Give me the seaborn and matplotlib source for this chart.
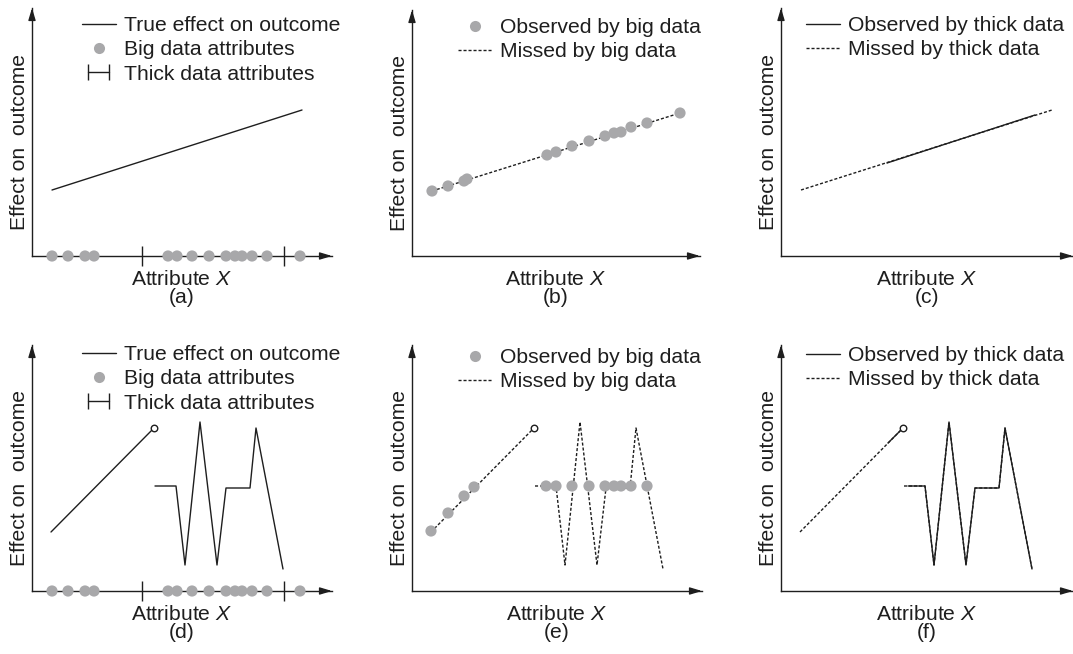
import matplotlib
matplotlib.use('Agg')
import matplotlib.pyplot as plt
import seaborn as sns
from matplotlib.lines import Line2D
from matplotlib.legend_handler import HandlerLine2D

sns.set_theme(style='white')
plt.rcParams['font.family'] = ['Liberation Sans', 'DejaVu Sans']
plt.rcParams['mathtext.fontset'] = 'custom'
plt.rcParams['mathtext.rm'] = 'Liberation Sans'
plt.rcParams['mathtext.it'] = 'Liberation Sans:italic'

INK = '#1e1e1e'
DOT = '#a8a8aa'
DASH = (0, (2.2, 1.4))
FS = 15.2

# data (units: pixels measured from each panel's origin)
big_x = [20, 36, 53, 62, 136, 145, 160, 177, 194, 203, 210, 220, 235, 268]
thick_ticks = [110, 252]
true_x = [20, 270]
true_y = [66, 146]

obs_x_b = [20, 36, 52, 55, 135, 144, 160, 177, 193, 202, 209, 219, 235, 268]
obs_y_b = [65, 70, 75, 77, 101, 104, 110, 115, 120, 123, 124, 129, 133, 143]

miss_x_c = [20, 271]
miss_y_c = [66, 146]
seen_x_c = [106, 254]
seen_y_c = [93, 141]

seg_x = [19, 122]
seg_y = [59, 163]
zig_x = [123, 144, 153, 168, 185, 194, 218, 224, 251]
zig_y = [105, 105, 26, 169, 26, 103, 103, 163, 22]

obs1_x_e = [19, 36, 52, 62]
obs1_y_e = [60, 78, 95, 104]
obs2_x_e = [134, 144, 160, 177, 193, 202, 209, 219, 235]
obs2_y_e = [105] * 9

seen_seg_x_f = [107, 122]
seen_seg_y_f = [148, 163]
seen_zig_x_f = [127, 144, 153, 168, 185, 194, 218, 224, 251]
seen_zig_y_f = [105, 105, 26, 169, 26, 103, 103, 163, 22]

# panel boxes: left, top, right, origin-y (pixels in figure)
boxes = {
    'a': (32, 8, 332, 256), 'b': (412, 10, 700, 256), 'c': (781, 8, 1073, 256),
    'd': (32, 345, 332, 591), 'e': (412, 345, 702, 591), 'f': (781, 345, 1073, 591),
}
legend_at = {'a': (82, 16), 'b': (458, 18), 'c': (806, 16),
             'd': (82, 345), 'e': (458, 348), 'f': (806, 346)}

W, H = 1073, 654
fig = plt.figure(figsize=(W / 100, H / 100), dpi=100)
axes = {}
for key, (l, t, r, o) in boxes.items():
    ax = fig.add_axes([l / W, (H - o) / H, (r - l) / W, (o - t) / H])
    ax.set_xlim(0, r - l)
    ax.set_ylim(0, o - t)
    for s in ['top', 'right']:
        ax.spines[s].set_visible(False)
    for s in ['left', 'bottom']:
        ax.spines[s].set_color(INK)
        ax.spines[s].set_linewidth(1.0)
    ax.set_yticks([])
    ax.set_xticks([])
    ax.annotate('', xy=(1, 0), xytext=(0.97, 0), xycoords='axes fraction',
                arrowprops=dict(arrowstyle='-|>,head_length=0.6,head_width=0.18',
                                color=INK, lw=1, shrinkA=0, shrinkB=0))
    ax.annotate('', xy=(0, 1), xytext=(0, 0.97), xycoords='axes fraction',
                arrowprops=dict(arrowstyle='-|>,head_length=0.6,head_width=0.18',
                                color=INK, lw=1, shrinkA=0, shrinkB=0))
    ax.set_xlabel('Attribute $X$', fontsize=FS, color=INK)
    ax.xaxis.set_label_coords(0.5, -14 / (o - t))
    ax.set_ylabel('Effect on  outcome', fontsize=FS, color=INK)
    ax.yaxis.set_label_coords(-3 / (r - l), 0.46)
    ax.text(0.5, -32 / (o - t), '(%s)' % key, transform=ax.transAxes,
            ha='center', va='top', fontsize=FS, color=INK)
    axes[key] = ax


def line(ax, x, y, dashed=False, lw=1.0):
    sns.lineplot(x=x, y=y, ax=ax, color=INK, lw=lw, sort=False, estimator=None,
                 linestyle=DASH if dashed else '-', legend=False)


def dots(ax, x, y):
    sns.scatterplot(x=x, y=y, ax=ax, color=DOT, s=65, edgecolor='none',
                    clip_on=False, zorder=3, legend=False)


def open_end(ax, x, y):
    sns.scatterplot(x=[x], y=[y], ax=ax, facecolor='white', edgecolor=INK,
                    s=22, linewidth=1, zorder=4, legend=False)


def thick_axis(ax):
    ax.set_xticks(thick_ticks)
    ax.tick_params(axis='x', bottom=True, direction='inout', length=15,
                   width=1, color=INK, labelbottom=False)


# (a)
ax = axes['a']
line(ax, true_x, true_y)
dots(ax, big_x, [0] * len(big_x))
thick_axis(ax)
# (b)
ax = axes['b']
line(ax, obs_x_b[::len(obs_x_b) - 1], obs_y_b[::len(obs_y_b) - 1], dashed=True)
dots(ax, obs_x_b, obs_y_b)
# (c)
ax = axes['c']
line(ax, miss_x_c, miss_y_c, dashed=True)
line(ax, seen_x_c, seen_y_c)
# (d)
ax = axes['d']
line(ax, seg_x, seg_y)
line(ax, zig_x, zig_y)
open_end(ax, seg_x[-1], seg_y[-1])
dots(ax, big_x, [0] * len(big_x))
thick_axis(ax)
# (e)
ax = axes['e']
line(ax, seg_x, seg_y, dashed=True)
line(ax, zig_x, zig_y, dashed=True)
dots(ax, obs1_x_e, obs1_y_e)
dots(ax, obs2_x_e, obs2_y_e)
open_end(ax, seg_x[-1], seg_y[-1])
# (f)
ax = axes['f']
line(ax, seg_x, seg_y, dashed=True)
line(ax, zig_x, zig_y, dashed=True)
line(ax, seen_seg_x_f, seen_seg_y_f)
line(ax, seen_zig_x_f, seen_zig_y_f)
open_end(ax, seg_x[-1], seg_y[-1])

# legends
solid_h = Line2D([], [], color=INK, lw=1)
dash_h = Line2D([], [], color=INK, lw=1, linestyle=DASH)
dot_h = Line2D([], [], color=DOT, marker='o', markersize=8, linestyle='',
               markeredgewidth=0)
tick_h = Line2D([0, 1], [0, 0], color=INK, lw=1, marker='|', markersize=12,
                markeredgewidth=1)
legend_items = {
    'a': ([solid_h, dot_h, tick_h],
          ['True effect on outcome', 'Big data attributes', 'Thick data attributes']),
    'b': ([dot_h, dash_h], ['Observed by big data', 'Missed by big data']),
    'c': ([solid_h, dash_h], ['Observed by thick data', 'Missed by thick data']),
}
legend_items['d'] = legend_items['a']
legend_items['e'] = legend_items['b']
legend_items['f'] = legend_items['c']
for key, (handles, labels) in legend_items.items():
    lx, ly = legend_at[key]
    leg = axes[key].legend(handles, labels, loc='upper left',
                           bbox_to_anchor=(lx / W, 1 - ly / H),
                           bbox_transform=fig.transFigure, frameon=False,
                           fontsize=FS, handlelength=1.6, handletextpad=0.38,
                           labelspacing=0.25, borderpad=0, borderaxespad=0,
                           numpoints=1, handler_map={tick_h: HandlerLine2D(numpoints=2)})
    for t in leg.get_texts():
        t.set_color(INK)

fig.savefig('out.png', dpi=100)
